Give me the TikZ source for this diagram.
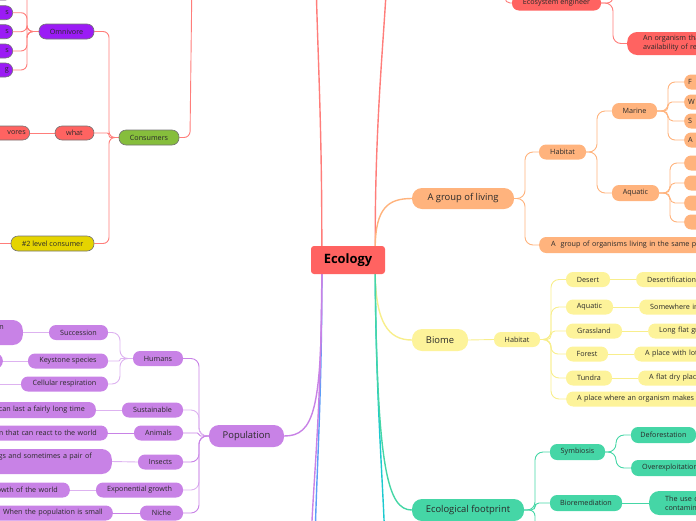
\documentclass[tikz,border=0pt]{standalone}
\usepackage{fontspec}
\setmainfont{Open Sans}
\pgfdeclarelayer{bg}
\pgfsetlayers{bg,main}
\definecolor{cRed}{HTML}{FF6361}
\definecolor{cRedLn}{HTML}{FF7D7A}
\definecolor{cVio}{HTML}{9B1BF5}
\definecolor{cGrn}{HTML}{86BE3C}
\definecolor{cGold}{HTML}{E5D400}
\definecolor{cOr}{HTML}{FFB37D}
\definecolor{cYel}{HTML}{FDF39A}
\definecolor{cYelLn}{HTML}{F8EE8C}
\definecolor{cTeal}{HTML}{45D6A6}
\definecolor{cPur}{HTML}{C882E6}
\definecolor{cPurL}{HTML}{DDB2F0}
\definecolor{cCyan}{HTML}{1CC9CF}
\definecolor{cBlue}{HTML}{5C9DF8}
\definecolor{cTxt}{HTML}{2A2A2A}
\newcommand{\mmR}[4][]{\draw[#1] (#2.east) -- (#2.east -| #3,0) -- (#4.west -| #3,0) -- (#4.west);}
\newcommand{\mmL}[4][]{\draw[#1] (#2.west) -- (#2.west -| #3,0) -- (#4.east -| #3,0) -- (#4.east);}
\begin{document}
\begin{tikzpicture}[x=1pt,y=-1pt,
  base/.style={inner sep=0pt, text=cTxt, font=\fontsize{7.2}{9}\selectfont, rounded corners=7pt},
  big/.style={font=\fontsize{9.4}{11}\selectfont, rounded corners=10pt},
  edged/.style={draw=black!55, line width=0.6pt},
  lt/.style={anchor=west, align=left, text width=160pt, inner xsep=11pt},
  rt/.style={anchor=east, align=right, text width=160pt, inner xsep=4pt},
  rednode/.style={base, fill=cRed},
  vio/.style={base, fill=cVio},
  grn/.style={base, fill=cGrn},
  gold/.style={base, fill=cGold},
  orn/.style={base, fill=cOr},
  yel/.style={base, fill=cYel},
  tl/.style={base, fill=cTeal},
  pur/.style={base, fill=cPur},
  econode/.style={inner sep=0pt, fill=cRed, rounded corners=3pt, font=\fontsize{12.9}{14}\selectfont\bfseries, text=black, minimum width=74pt, minimum height=28pt},
  rl/.style={draw=cRedLn, line width=0.9pt},
  ol/.style={draw=cOr, line width=0.9pt},
  yl/.style={draw=cYelLn, line width=0.9pt},
  gl/.style={draw=cTeal, line width=0.9pt},
  pl/.style={draw=cPur, line width=0.9pt},
  plL/.style={draw=cPurL, line width=0.9pt},
  main/.style={line width=1.4pt}
]
\useasboundingbox (0,0) rectangle (696,520);

% central
\node[econode] (eco) at (348,260) {Ecology};
\coordinate (eTL) at ([xshift=11pt]eco.north west);
\coordinate (eTR) at ([xshift=-10pt]eco.north east);
\coordinate (eBL) at ([xshift=11pt]eco.south west);
\coordinate (eBR) at ([xshift=-10pt]eco.south east);
\coordinate (tUp1) at (316,-25);
\coordinate (tUp2) at (387,-25);
\coordinate (tDn1) at (315,545);
\coordinate (tDn2) at (311,545);
\coordinate (tDn3) at (385,545);

% top left
\node[vio, edged, minimum width=55pt, minimum height=15pt] (om) at (66.5,31.5) {Omnivore};
\node[vio, edged, rt, minimum height=14pt] (oc0) at (13,-7) {};
\node[vio, edged, rt, minimum height=14pt] (oc1) at (13,12.7) {s};
\node[vio, edged, rt, minimum height=14pt] (oc2) at (13,31.7) {s};
\node[vio, edged, rt, minimum height=14pt] (oc3) at (13,51) {s};
\node[vio, edged, rt, minimum height=14pt] (oc4) at (13,70) {g};
\node[rednode, edged, minimum width=39pt, minimum height=14pt] (wh) at (74.5,133) {what};
\node[rednode, edged, rt, minimum height=14pt] (vo) at (30,133) {vores};
\node[grn, edged, minimum width=60pt, minimum height=15pt] (co) at (149,137.5) {Consumers};
\node[gold, edged, minimum width=83pt, minimum height=15pt] (l2) at (52.5,243.5) {\#2 level consumer};
\coordinate (l2c) at (-20,243.5);
\coordinate (pco) at (192,-25);

% top right
\node[rednode, minimum width=89pt, minimum height=15pt] (ee) at (556.5,3) {Ecosystem engineer};
\node[rednode, lt, inner xsep=16pt, minimum height=23pt, rounded corners=10pt] (ao) at (627,43.5) {An organism tha\\availability of re};
\coordinate (pee) at (505,-25);
\coordinate (cee) at (613,-30);

% orange
\node[orn, big, minimum width=102pt, minimum height=21pt] (ag) at (463,198.5) {A group of living};
\node[orn, minimum width=47pt, minimum height=15pt] (oh) at (562.5,152) {Habitat};
\node[orn, minimum width=45pt, minimum height=16pt] (ma) at (634.5,111) {Marine};
\node[orn, minimum width=47pt, minimum height=16pt] (aq) at (635.5,193) {Aquatic};
\node[orn, lt, inner xsep=4pt, minimum height=15pt] (m1) at (684,82) {F};
\node[orn, lt, inner xsep=4pt, minimum height=15pt] (m2) at (684,102) {W};
\node[orn, lt, inner xsep=4pt, minimum height=15pt] (m3) at (684,121) {S};
\node[orn, lt, inner xsep=4pt, minimum height=15pt] (m4) at (684,140) {A};
\node[orn, lt, minimum height=15pt] (a1) at (684,163) {};
\node[orn, lt, minimum height=15pt] (a2) at (684,183) {};
\node[orn, lt, minimum height=15pt] (a3) at (684,203) {};
\node[orn, lt, minimum height=15pt] (a4) at (684,222) {};
\node[orn, lt, inner xsep=12pt, minimum height=16pt] (ap) at (539,245) {A\ \ group of organisms living in the same pl};

% yellow
\node[yel, big, minimum width=56pt, minimum height=22pt] (bi) at (440,340) {Biome};
\node[yel, minimum width=46pt, minimum height=15pt] (yh) at (517,339.5) {Habitat};
\node[yel, minimum width=44pt, minimum height=15pt] (de) at (588,279.5) {Desert};
\node[yel, minimum width=47pt, minimum height=15pt] (ya) at (589.5,307) {Aquatic};
\node[yel, minimum width=56pt, minimum height=15pt] (gr) at (594,331) {Grassland};
\node[yel, minimum width=42pt, minimum height=15pt] (fo) at (587,354) {Forest};
\node[yel, minimum width=46pt, minimum height=15pt] (tu) at (589,378) {Tundra};
\node[yel, lt, minimum height=15pt] (apl) at (566,399) {A place where an organism makes h};
\node[yel, lt, minimum height=15pt] (dd) at (636,279.5) {Desertification};
\node[yel, lt, minimum height=15pt] (sw) at (639,307) {Somewhere in};
\node[yel, lt, minimum height=15pt] (lf) at (648,331) {Long flat gr};
\node[yel, lt, minimum height=15pt] (pw) at (634,354) {A place with lot};
\node[yel, lt, minimum height=15pt] (fd) at (638,378) {A flat dry plac};

% green
\node[tl, big, minimum width=112pt, minimum height=22pt] (ef) at (468,510) {Ecological footprint};
\node[tl, minimum width=55pt, minimum height=16pt] (sy) at (577.5,452) {Symbiosis};
\node[tl, minimum width=72pt, minimum height=16pt] (br) at (586,503) {Bioremediation};
\node[tl, minimum width=65pt, minimum height=16pt] (df) at (663.5,435) {Deforestation};
\node[tl, lt, minimum height=16pt] (ov) at (631,468) {Overexploitation};
\node[tl, lt, inner xsep=16pt, minimum height=24pt, rounded corners=10pt] (tu2) at (649,503) {The use o\\contamin};
\coordinate (efc) at (535,545);

% purple
\node[pur, big, minimum width=75pt, minimum height=22pt] (po) at (246.5,436) {Population};
\node[pur, minimum width=50pt, minimum height=15pt] (hu) at (158,358.5) {Humans};
\node[pur, minimum width=61pt, minimum height=15pt] (su) at (152.5,410) {Sustainable};
\node[pur, minimum width=49pt, minimum height=15pt] (an) at (158.5,433) {Animals};
\node[pur, minimum width=45pt, minimum height=15pt] (in) at (160.5,462) {Insects};
\node[pur, minimum width=87pt, minimum height=15pt] (ex) at (139.5,490) {Exponential growth};
\node[pur, minimum width=43pt, minimum height=15pt] (ni) at (161.5,513) {Niche};
\node[pur, minimum width=59pt, minimum height=15pt] (sc) at (78.5,332.5) {Succession};
\node[pur, minimum width=80pt, minimum height=15pt] (ks) at (68,361) {Keystone species};
\node[pur, minimum width=87pt, minimum height=15pt] (cr) at (64.5,384) {Cellular respiration};
\node[pur, rt, inner xsep=19pt, minimum height=25pt, rounded corners=10pt] (scc) at (23,332.5) {n\\\phantom{n}};
\node[pur, rt, minimum height=15pt] (ksc) at (3,361) {};
\coordinate (crc) at (-20,384);
\node[pur, rt, inner xsep=11pt, minimum height=16pt] (suc) at (96,410) {can last a fairly long time};
\node[pur, rt, inner xsep=11pt, minimum height=15pt] (anc) at (108,433) {m that can react to the world};
\node[pur, rt, inner xsep=20pt, minimum height=25pt, rounded corners=10pt] (inc) at (112,461.5) {gs and sometimes a pair of\\\phantom{g}};
\node[pur, rt, inner xsep=12pt, minimum height=15pt] (exc) at (70,490) {owth of the world};
\node[pur, rt, inner xsep=10pt, minimum height=15pt] (nic) at (113,513) {When the population is small};

\begin{pgfonlayer}{bg}
% main branches
\draw[rl, main] (eTL) .. controls (322,120) and (317,40) .. (tUp1);
\draw[rl, main] (eTR) .. controls (375,120) and (384,40) .. (tUp2);
\draw[ol, main] (eTR) .. controls (376,208) and (388,198.5) .. (ag.west);
\draw[yl, main] (eBR) .. controls (376,322) and (388,340) .. (bi.west);
\draw[draw=cCyan, main] (eBR) .. controls (376,400) and (383,480) .. (tDn3);
\draw[gl, main] (eBR) .. controls (377,470) and (388,510) .. (ef.west);
\draw[draw=cBlue, main] (eBL) .. controls (322,400) and (316,480) .. (tDn1);
\draw[pl, main] (eBL) .. controls (322,410) and (314,436) .. (po.east);
\draw[pl, main] (eBL) .. controls (321,420) and (313,480) .. (tDn2);

% top left
\mmL[rl, rounded corners=6pt]{om}{27}{oc0}
\mmL[rl, rounded corners=6pt]{om}{27}{oc1}
\mmL[rl, rounded corners=6pt]{om}{27}{oc2}
\mmL[rl, rounded corners=6pt]{om}{27}{oc3}
\mmL[rl, rounded corners=6pt]{om}{27}{oc4}
\mmL[rl, rounded corners=6pt]{co}{109}{om}
\mmL[rl, rounded corners=2pt]{co}{109}{wh}
\mmL[rl, rounded corners=6pt]{co}{109}{l2}
\draw[rl] (wh.west) -- (vo.east);
\draw[rl] (l2.west) -- (l2c);
\draw[rl, rounded corners=6pt] (co.east) -- (co.east -| 190,0) -- (pco);

% top right
\draw[rl, rounded corners=5pt] (pee) -- (pee |- ee.west) -- (ee.west);
\draw[rl, rounded corners=6pt] (ee.east) -- (ee.east -| cee) -- (cee);
\mmR[rl, rounded corners=8pt]{ee}{613}{ao}

% orange
\mmR[ol, rounded corners=8pt]{ag}{525}{oh}
\mmR[ol, rounded corners=8pt]{ag}{525}{ap}
\mmR[ol, rounded corners=8pt]{oh}{597}{ma}
\mmR[ol, rounded corners=8pt]{oh}{597}{aq}
\mmR[ol, rounded corners=7pt]{ma}{668}{m1}
\mmR[ol, rounded corners=4pt]{ma}{668}{m2}
\mmR[ol, rounded corners=5pt]{ma}{668}{m3}
\mmR[ol, rounded corners=7pt]{ma}{668}{m4}
\mmR[ol, rounded corners=7pt]{aq}{670}{a1}
\mmR[ol, rounded corners=5pt]{aq}{670}{a2}
\mmR[ol, rounded corners=5pt]{aq}{670}{a3}
\mmR[ol, rounded corners=7pt]{aq}{670}{a4}

% yellow
\draw[yl] (bi.east) -- (yh.west);
\mmR[yl, rounded corners=8pt]{yh}{551}{de}
\mmR[yl, rounded corners=8pt]{yh}{551}{ya}
\mmR[yl, rounded corners=4pt]{yh}{551}{gr}
\mmR[yl, rounded corners=7pt]{yh}{551}{fo}
\mmR[yl, rounded corners=8pt]{yh}{551}{tu}
\mmR[yl, rounded corners=8pt]{yh}{551}{apl}
\draw[yl] (de.east) -- (dd.west);
\draw[yl] (ya.east) -- (sw.west);
\draw[yl] (gr.east) -- (lf.west);
\draw[yl] (fo.east) -- (pw.west);
\draw[yl] (tu.east) -- (fd.west);

% green
\mmR[gl, rounded corners=8pt]{ef}{535}{sy}
\mmR[gl, rounded corners=4pt]{ef}{535}{br}
\draw[gl, rounded corners=6pt] (ef.east) -- (ef.east -| efc) -- (efc);
\mmR[gl, rounded corners=8pt]{sy}{616}{df}
\mmR[gl, rounded corners=8pt]{sy}{616}{ov}
\draw[gl] (br.east) -- (tu2.west);

% purple
\mmL[pl, rounded corners=8pt]{po}{199}{hu}
\mmL[plL, rounded corners=8pt]{po}{199}{su}
\mmL[pl, rounded corners=1.5pt]{po}{199}{an}
\mmL[pl, rounded corners=8pt]{po}{199}{in}
\mmL[plL, rounded corners=8pt]{po}{199}{ex}
\mmL[pl, rounded corners=8pt]{po}{199}{ni}
\mmL[plL, rounded corners=8pt]{hu}{120}{sc}
\mmL[plL, rounded corners=1pt]{hu}{120}{ks}
\mmL[plL, rounded corners=8pt]{hu}{120}{cr}
\draw[plL] (sc.west) -- (scc.east);
\draw[plL] (ks.west) -- (ksc.east);
\draw[plL] (cr.west) -- (crc);
\draw[plL] (su.west) -- (suc.east);
\draw[pl] (an.west) -- (anc.east);
\draw[plL] (in.west) -- (inc.east);
\draw[plL] (ex.west) -- (exc.east);
\draw[pl] (ni.west) -- (nic.east);
\end{pgfonlayer}
\end{tikzpicture}
\end{document}
